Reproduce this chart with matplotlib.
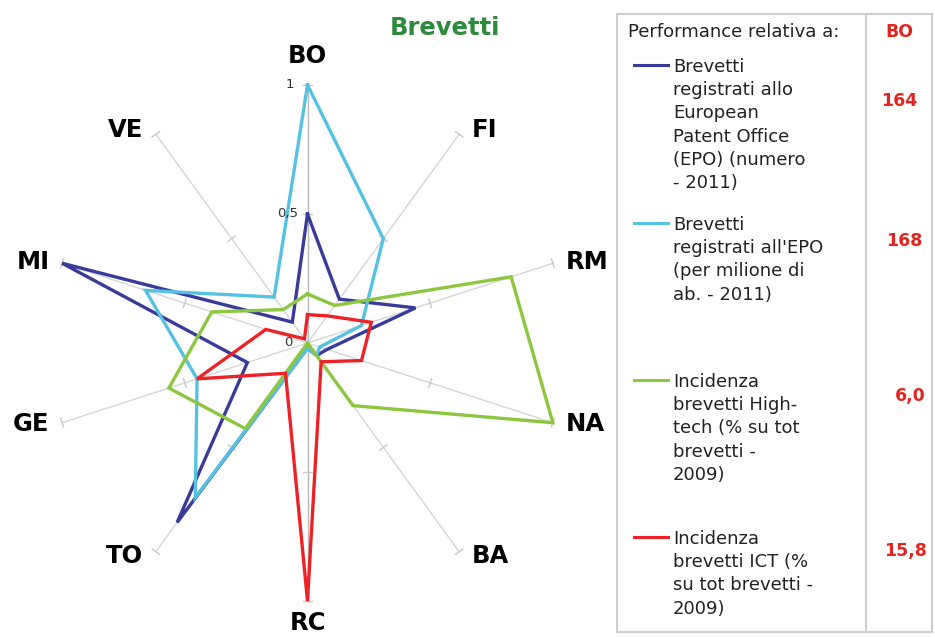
import numpy as np
import matplotlib
matplotlib.use("Agg")
import matplotlib.pyplot as plt
from matplotlib.lines import Line2D
from matplotlib.patches import Rectangle

cities = ["BO", "FI", "RM", "NA", "BA", "RC", "TO", "GE", "MI", "VE"]

epo_numero = [0.50, 0.21, 0.44, 0.08, 0.06, 0.02, 0.86, 0.245, 1.00, 0.10]
epo_milione = [1.00, 0.50, 0.22, 0.05, 0.06, 0.02, 0.74, 0.45, 0.66, 0.22]
hightech = [0.19, 0.18, 0.83, 1.00, 0.30, 0.00, 0.41, 0.565, 0.39, 0.16]
ict = [0.11, 0.13, 0.26, 0.22, 0.09, 1.00, 0.145, 0.45, 0.17, 0.02]

series_labels = [
    "Brevetti\nregistrati allo\nEuropean\nPatent Office\n(EPO) (numero\n- 2011)",
    "Brevetti\nregistrati all'EPO\n(per milione di\nab. - 2011)",
    "Incidenza\nbrevetti High-\ntech (% su tot\nbrevetti -\n2009)",
    "Incidenza\nbrevetti ICT (%\nsu tot brevetti -\n2009)",
]
bo_values = ["164", "168", "6,0", "15,8"]
colors = ["#383c98", "#55c1e3", "#8dc63f", "#ec2227"]

W, H = 935, 637
fig = plt.figure(figsize=(W / 100, H / 100), dpi=100)

# polar area: centre at (307.5, 343) px, radius 258 px
cx, cy, R = 307.5, 343, 258
ax = fig.add_axes([(cx - R) / W, (H - cy - R) / H, 2 * R / W, 2 * R / H], projection="polar")
ax.set_theta_zero_location("N")
ax.set_theta_direction(-1)
ax.set_ylim(0, 1)
ax.set_axis_off()

n = len(cities)
theta = np.arange(n) * 2 * np.pi / n

# spokes with small cross ticks at 0.5 and 1
d = 4.5 / R
for i, t in enumerate(theta):
    c = "#b8b8b8" if i in (0, 5) else "#d6d6d6"
    ax.plot([t, t], [0, 1], color=c, lw=1.0, clip_on=False, zorder=1)
    for r in (0.5, 1.0):
        dt = np.arctan(d / r)
        rr = np.hypot(r, d)
        ax.plot([t - dt, t + dt], [rr, rr], color="#c8c8c8", lw=1.0, clip_on=False, zorder=1)

for vals, col in zip([epo_numero, epo_milione, hightech, ict], colors):
    v = list(vals) + [vals[0]]
    tt = list(theta) + [theta[0]]
    ax.plot(tt, v, color=col, lw=2.4, clip_on=False, zorder=3, solid_joinstyle="miter")

# city names sit just outside the end of each spoke
for t, name in zip(theta, cities):
    s, c = np.sin(t), np.cos(t)
    if abs(s) < 0.1:
        ha = "center"
        va = "bottom" if c > 0 else "top"
        off = (0, 12) if c > 0 else (0, -7)
    else:
        ha = "left" if s > 0 else "right"
        va = "center"
        off = (9 * np.sign(s), 3.5 * c)
    ax.annotate(name, xy=(t, 1.0), xytext=off, textcoords="offset points",
                ha=ha, va=va, fontsize=17.5, fontweight="bold", color="black",
                annotation_clip=False)

for r, lab, dx in [(1.0, "1", -10), (0.5, "0,5", -7), (0.0, "0", -11)]:
    ax.annotate(lab, xy=(0, r), xytext=(dx, 0), textcoords="offset points",
                ha="right", va="center", fontsize=9.5, color="#333333")

fig.text(445 / W, 1 - 28 / H, "Brevetti", ha="center", va="center",
         fontsize=17.5, fontweight="bold", color="#2e8b3e")

# legend panel
def fx(x):
    return x / W

def fy(y):
    return 1 - y / H

fig.patches.append(Rectangle((fx(617), fy(632)), fx(932) - fx(617), fy(14) - fy(632),
                             transform=fig.transFigure, fill=False, edgecolor="#cfcfcf", lw=1.5))
fig.lines.append(Line2D([fx(866), fx(866)], [fy(14), fy(632)], transform=fig.transFigure,
                        color="#cfcfcf", lw=1.5))

fig.text(fx(628), fy(32), "Performance relativa a:", ha="left", va="center", fontsize=13, color="#222222")
fig.text(fx(899), fy(32), "BO", ha="center", va="center", fontsize=12.5, fontweight="bold", color="#e2261f")

line_y = [65, 223, 380, 537]
value_y = [101, 241, 396, 551]
value_x = [899, 904, 910, 905]
for lab, col, ly, val, vy, vx in zip(series_labels, colors, line_y, bo_values, value_y, value_x):
    fig.lines.append(Line2D([fx(634), fx(668)], [fy(ly), fy(ly)], transform=fig.transFigure,
                            color=col, lw=2.2))
    for k, row in enumerate(lab.split("\n")):
        fig.text(fx(673), fy(ly + 2 + k * 23.2), row, ha="left", va="center",
                 fontsize=13, color="#222222")
    fig.text(fx(vx), fy(vy), val, ha="center", va="center", fontsize=12.5,
             fontweight="bold", color="#e2261f")

fig.savefig("out.png", dpi=100)
